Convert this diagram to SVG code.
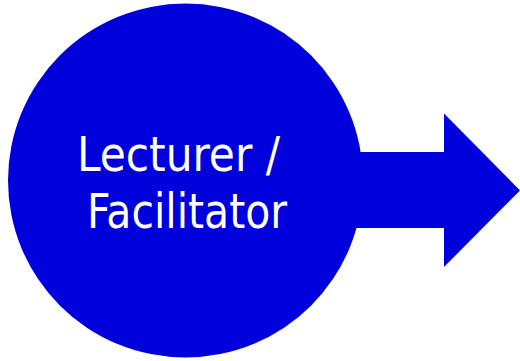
<svg xmlns="http://www.w3.org/2000/svg" width="520" height="361" viewBox="0 0 520 361">
<style>
.shape{fill:#0000DC;}
.lbl{fill:#FFFFFF;font-family:"DejaVu Sans Condensed","DejaVu Sans",sans-serif;font-stretch:condensed;font-size:48px;}
</style>
<rect width="520" height="361" fill="#FFFFFF"/>
<g id="connectors">
<polygon class="shape" points="340,152 444,152 444,113.5 520,190.5 444,267 444,228 340,228"/>
</g>
<g id="node-lecturer">
<ellipse class="shape" cx="185.5" cy="180.5" rx="177.5" ry="177"/>
<text class="lbl" x="77" y="171" textLength="203" lengthAdjust="spacingAndGlyphs">Lecturer /</text>
<text class="lbl" x="87" y="228" textLength="200" lengthAdjust="spacingAndGlyphs">Facilitator</text>
</g>
</svg>
